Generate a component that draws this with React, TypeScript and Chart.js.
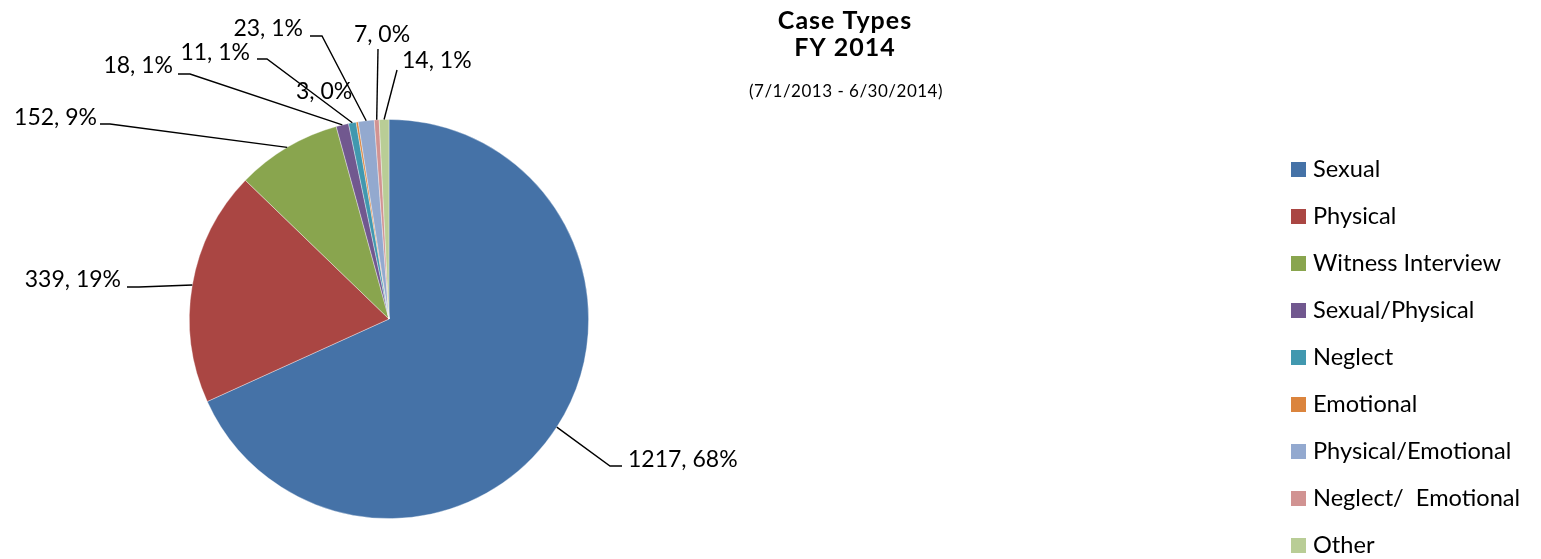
import React, { useEffect, useRef } from "react";
import { Chart, registerables } from "chart.js";

Chart.register(...registerables);

// ---- data ----
const categories = [
  "Sexual",
  "Physical",
  "Witness Interview",
  "Sexual/Physical",
  "Neglect",
  "Emotional",
  "Physical/Emotional",
  "Neglect/  Emotional",
  "Other",
];
const caseCounts = [1217, 339, 152, 18, 11, 3, 23, 7, 14];
const titleLines = ["Case Types", "FY 2014"];
const subtitleText = "(7/1/2013 - 6/30/2014)";

// ---- styles ----
const sliceColors = [
  "#4572A7",
  "#AA4643",
  "#89A54E",
  "#71588F",
  "#4198AF",
  "#DB843D",
  "#93A9CF",
  "#D19392",
  "#B9CD96",
];
const FONT = "Lato, 'Open Sans', sans-serif";
const LABEL_SIZE = 23;
const LEGEND_SIZE = 23.6;

// label layout relative to pie centre (px): elbow point, horizontal tick, text anchor, align
type LabelLayout = {
  elbow: [number, number] | null;
  tick: number;
  text: [number, number];
  align: CanvasTextAlign;
};
const labelLayout: LabelLayout[] = [
  { elbow: [221, 147], tick: 12, text: [239, 148], align: "left" },
  { elbow: [-250, -32], tick: -12, text: [-268, -32], align: "right" },
  { elbow: [-279, -195], tick: -10, text: [-292, -194], align: "right" },
  { elbow: [-199, -245], tick: -12, text: [-216, -246], align: "right" },
  { elbow: [-122, -260], tick: -10, text: [-139, -259], align: "right" },
  { elbow: null, tick: 0, text: [-93, -220], align: "left" },
  { elbow: [-67, -283], tick: -12, text: [-86, -283], align: "right" },
  { elbow: [-11, -270], tick: 0, text: [-7, -277], align: "center" },
  { elbow: [8, -249], tick: 0, text: [13, -251], align: "left" },
];

const W = 1541;
const H = 559;

const leaderLabels = {
  id: "leaderLabels",
  afterDatasetsDraw(chart: any) {
    const ctx = chart.ctx as CanvasRenderingContext2D;
    const meta = chart.getDatasetMeta(0);
    const data = chart.data.datasets[0].data as number[];
    const total = data.reduce((a, b) => a + b, 0);
    ctx.save();
    ctx.font = `${LABEL_SIZE}px ${FONT}`;
    ctx.fillStyle = "#000";
    ctx.strokeStyle = "#000";
    ctx.lineWidth = 1.4;
    meta.data.forEach((arc: any, i: number) => {
      const { x, y, startAngle, endAngle, outerRadius } = arc.getProps(
        ["x", "y", "startAngle", "endAngle", "outerRadius"],
        true
      );
      const mid = (startAngle + endAngle) / 2;
      const px = x + Math.cos(mid) * outerRadius;
      const py = y + Math.sin(mid) * outerRadius;
      const L = labelLayout[i];
      if (L.elbow) {
        const ex = x + L.elbow[0];
        const ey = y + L.elbow[1];
        ctx.beginPath();
        ctx.moveTo(px, py);
        ctx.lineTo(ex, ey);
        ctx.lineTo(ex + L.tick, ey);
        ctx.stroke();
      }
      const pct = Math.round((data[i] / total) * 100);
      ctx.textAlign = L.align;
      ctx.textBaseline = "alphabetic";
      ctx.fillText(`${data[i]}, ${pct}%`, x + L.text[0], y + L.text[1]);
    });
    ctx.restore();
  },
};

const titleAndLegend = {
  id: "titleAndLegend",
  afterDraw(chart: any) {
    const ctx = chart.ctx as CanvasRenderingContext2D;
    ctx.save();
    ctx.fillStyle = "#000";
    ctx.textAlign = "center";
    ctx.textBaseline = "alphabetic";
    (ctx as any).letterSpacing = "1px";
    ctx.font = `bold 25px ${FONT}`;
    ctx.fillText(titleLines[0], 845, 29);
    ctx.fillText(titleLines[1], 845, 56);
    (ctx as any).letterSpacing = "0.5px";
    ctx.font = `17px ${FONT}`;
    ctx.fillText(subtitleText, 846, 97);
    (ctx as any).letterSpacing = "0px";

    // legend
    const labels = chart.data.labels as string[];
    const colors = chart.data.datasets[0].backgroundColor as string[];
    ctx.textAlign = "left";
    ctx.textBaseline = "middle";
    ctx.font = `${LEGEND_SIZE}px ${FONT}`;
    labels.forEach((lab, i) => {
      const cy = 169 + i * 47;
      ctx.fillStyle = colors[i];
      ctx.fillRect(1291, cy - 7, 15, 15);
      ctx.fillStyle = "#000";
      ctx.fillText(lab, 1313, cy);
    });
    ctx.restore();
  },
};

export default function App() {
  const ref = useRef<HTMLCanvasElement | null>(null);
  useEffect(() => {
    document.body.style.margin = "0";
    const canvas = ref.current;
    if (!canvas) return;
    const chart = new Chart(canvas, {
      type: "pie",
      data: {
        labels: categories,
        datasets: [
          {
            data: caseCounts,
            backgroundColor: sliceColors,
            borderColor: "rgba(255,255,255,0.45)",
            borderWidth: 0.8,
          },
        ],
      },
      options: {
        responsive: false,
        animation: false,
        devicePixelRatio: 1,
        layout: { padding: { left: 189, top: 119, right: W - 589, bottom: H - 519 } },
        plugins: {
          legend: { display: false },
          title: { display: false },
          tooltip: { enabled: false },
        },
      },
      plugins: [leaderLabels, titleAndLegend],
    });
    return () => chart.destroy();
  }, []);
  return (
    <div style={{ position: "absolute", left: 0, top: 0, width: W, height: H, background: "#fff" }}>
      <canvas ref={ref} width={W} height={H} style={{ width: W, height: H, display: "block" }} />
    </div>
  );
}
